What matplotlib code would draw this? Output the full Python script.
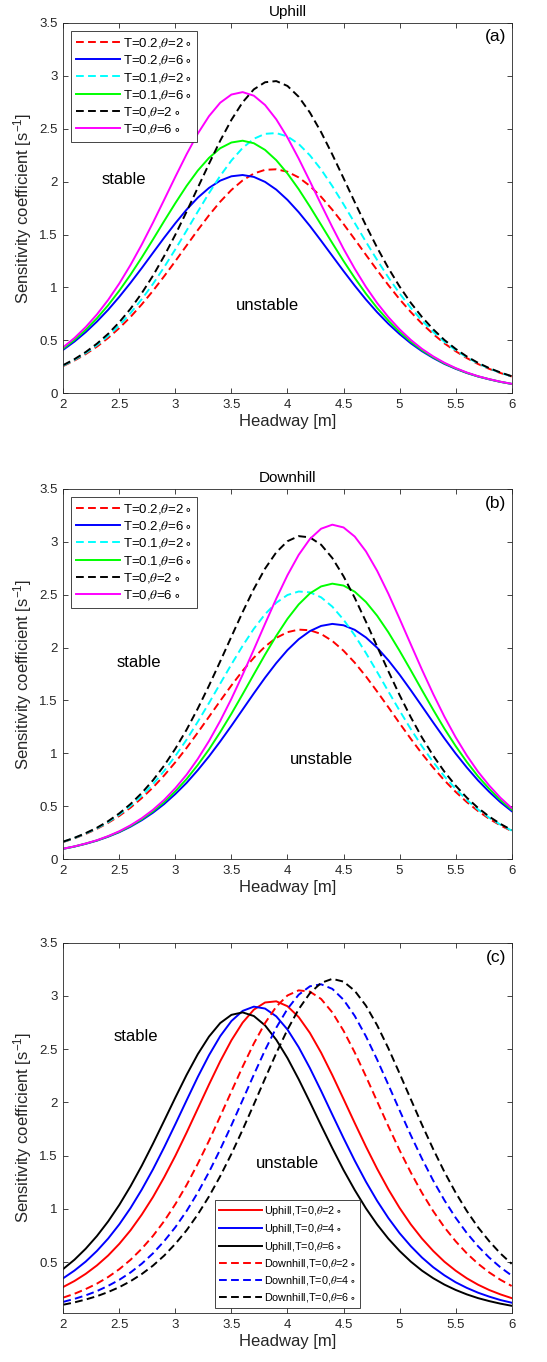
import matplotlib
matplotlib.use("Agg")
import matplotlib.pyplot as plt

plt.rcParams['font.family'] = ['Liberation Sans', 'DejaVu Sans']
plt.rcParams['mathtext.fontset'] = 'custom'
plt.rcParams['mathtext.rm'] = 'Liberation Sans'
plt.rcParams['mathtext.it'] = 'Liberation Sans:italic'

# headway [m]
headway = [2.0, 2.1, 2.2, 2.3, 2.4, 2.5, 2.6, 2.7, 2.8, 2.9, 3.0, 3.1, 3.2, 3.3, 3.4, 3.5, 3.6, 3.7, 3.8, 3.9, 4.0,
           4.1, 4.2, 4.3, 4.4, 4.5, 4.6, 4.7, 4.8, 4.9, 5.0, 5.1, 5.2, 5.3, 5.4, 5.5, 5.6, 5.7, 5.8, 5.9, 6.0]

# uphill sensitivity coefficients
up_T02_th2 = [0.258, 0.310, 0.371, 0.441, 0.523, 0.617, 0.722, 0.840, 0.968, 1.106, 1.249, 1.396, 1.542,
              1.682, 1.810, 1.921, 2.011, 2.076, 2.111, 2.116, 2.093, 2.039, 1.959, 1.856, 1.734, 1.599, 1.455, 1.308, 1.163,
              1.022, 0.889, 0.768, 0.658, 0.560, 0.472, 0.398, 0.333, 0.277, 0.231, 0.192, 0.159]
up_T02_th6 = [0.412, 0.489, 0.578, 0.678, 0.789, 0.912, 1.044, 1.183, 1.327, 1.470, 1.607, 1.735, 1.848,
              1.940, 2.009, 2.050, 2.062, 2.044, 1.997, 1.924, 1.827, 1.711, 1.581, 1.441, 1.298, 1.155, 1.017, 0.886, 0.766,
              0.657, 0.560, 0.473, 0.398, 0.334, 0.278, 0.232, 0.192, 0.159, 0.132, 0.108, 0.089]
up_T01_th2 = [0.262, 0.316, 0.380, 0.455, 0.541, 0.643, 0.758, 0.889, 1.033, 1.192, 1.361, 1.537, 1.716,
              1.891, 2.054, 2.199, 2.318, 2.404, 2.451, 2.458, 2.426, 2.355, 2.248, 2.114, 1.957, 1.786, 1.609, 1.431, 1.259,
              1.095, 0.944, 0.808, 0.687, 0.581, 0.487, 0.408, 0.340, 0.283, 0.234, 0.194, 0.160]
up_T01_th6 = [0.423, 0.505, 0.601, 0.709, 0.832, 0.970, 1.121, 1.283, 1.453, 1.627, 1.797, 1.959, 2.104,
              2.224, 2.315, 2.369, 2.386, 2.362, 2.299, 2.202, 2.076, 1.928, 1.764, 1.592, 1.419, 1.250, 1.090, 0.941, 0.806,
              0.687, 0.581, 0.488, 0.408, 0.341, 0.283, 0.235, 0.194, 0.160, 0.133, 0.109, 0.089]
up_T0_th2 = [0.267, 0.323, 0.390, 0.469, 0.562, 0.672, 0.799, 0.946, 1.111, 1.297, 1.499, 1.716, 1.942,
             2.168, 2.386, 2.583, 2.749, 2.871, 2.938, 2.949, 2.903, 2.801, 2.652, 2.467, 2.256, 2.032, 1.806, 1.585, 1.376,
             1.183, 1.009, 0.855, 0.721, 0.605, 0.504, 0.420, 0.348, 0.288, 0.238, 0.197, 0.162]
up_T0_th4 = [0.349, 0.421, 0.505, 0.605, 0.721, 0.855, 1.008, 1.181, 1.371, 1.578, 1.796, 2.019, 2.239,
             2.443, 2.622, 2.764, 2.859, 2.899, 2.881, 2.808, 2.684, 2.518, 2.322, 2.108, 1.885, 1.665, 1.453, 1.255, 1.075,
             0.914, 0.772, 0.650, 0.543, 0.452, 0.376, 0.311, 0.258, 0.213, 0.176, 0.144, 0.119]
up_T0_th6 = [0.436, 0.523, 0.626, 0.745, 0.882, 1.038, 1.213, 1.405, 1.612, 1.828, 2.046, 2.258, 2.453,
             2.618, 2.745, 2.822, 2.845, 2.811, 2.723, 2.588, 2.416, 2.217, 2.003, 1.784, 1.570, 1.365, 1.177, 1.005, 0.853,
             0.720, 0.605, 0.505, 0.420, 0.349, 0.289, 0.239, 0.197, 0.162, 0.134, 0.110, 0.090]

# downhill sensitivity coefficients
down_T02_th2 = [0.163, 0.198, 0.239, 0.287, 0.344, 0.410, 0.488, 0.578, 0.678, 0.792, 0.917, 1.052, 1.197,
                1.346, 1.496, 1.642, 1.780, 1.904, 2.009, 2.091, 2.145, 2.169, 2.163, 2.128, 2.062, 1.970, 1.857, 1.727, 1.584,
                1.436, 1.285, 1.138, 0.997, 0.866, 0.745, 0.637, 0.540, 0.456, 0.382, 0.320, 0.266]
down_T02_th6 = [0.099, 0.120, 0.146, 0.176, 0.213, 0.256, 0.308, 0.369, 0.440, 0.522, 0.617, 0.722, 0.842,
                0.972, 1.113, 1.261, 1.414, 1.567, 1.715, 1.853, 1.976, 2.078, 2.155, 2.204, 2.223, 2.210, 2.167, 2.095, 1.998,
                1.879, 1.744, 1.597, 1.445, 1.292, 1.142, 0.999, 0.867, 0.745, 0.637, 0.539, 0.455]
down_T01_th2 = [0.165, 0.200, 0.243, 0.292, 0.351, 0.422, 0.504, 0.601, 0.710, 0.835, 0.976, 1.130, 1.299,
                1.476, 1.659, 1.841, 2.016, 2.177, 2.315, 2.423, 2.496, 2.529, 2.521, 2.474, 2.386, 2.263, 2.115, 1.948, 1.769,
                1.585, 1.404, 1.230, 1.067, 0.918, 0.783, 0.665, 0.560, 0.470, 0.392, 0.327, 0.271]
down_T01_th6 = [0.099, 0.121, 0.148, 0.178, 0.216, 0.260, 0.314, 0.378, 0.453, 0.541, 0.643, 0.758, 0.891,
                1.038, 1.201, 1.375, 1.559, 1.747, 1.933, 2.110, 2.271, 2.407, 2.511, 2.577, 2.603, 2.585, 2.527, 2.430, 2.300,
                2.144, 1.969, 1.785, 1.597, 1.412, 1.234, 1.070, 0.919, 0.783, 0.665, 0.559, 0.469]
down_T0_th2 = [0.167, 0.203, 0.247, 0.298, 0.360, 0.434, 0.522, 0.626, 0.746, 0.885, 1.045, 1.224, 1.424,
               1.640, 1.869, 2.103, 2.335, 2.553, 2.745, 2.899, 3.004, 3.052, 3.040, 2.971, 2.845, 2.673, 2.469, 2.244, 2.009,
               1.776, 1.551, 1.342, 1.150, 0.979, 0.827, 0.696, 0.582, 0.485, 0.403, 0.334, 0.276]
down_T0_th4 = [0.127, 0.155, 0.188, 0.228, 0.277, 0.334, 0.403, 0.485, 0.582, 0.697, 0.828, 0.980, 1.153,
               1.346, 1.558, 1.785, 2.022, 2.260, 2.491, 2.701, 2.878, 3.011, 3.090, 3.109, 3.066, 2.964, 2.812, 2.620, 2.401,
               2.165, 1.926, 1.692, 1.471, 1.266, 1.081, 0.917, 0.773, 0.649, 0.542, 0.451, 0.374]
down_T0_th6 = [0.100, 0.122, 0.149, 0.180, 0.219, 0.265, 0.321, 0.388, 0.467, 0.561, 0.672, 0.799, 0.948,
               1.117, 1.307, 1.516, 1.743, 1.981, 2.224, 2.462, 2.683, 2.875, 3.025, 3.122, 3.160, 3.134, 3.048, 2.908, 2.724,
               2.508, 2.272, 2.030, 1.790, 1.561, 1.347, 1.153, 0.980, 0.827, 0.696, 0.581, 0.484]

xticks = [2, 2.5, 3, 3.5, 4, 4.5, 5, 5.5, 6]
xtick_labels = ['2', '2.5', '3', '3.5', '4', '4.5', '5', '5.5', '6']
yticks = [0, 0.5, 1, 1.5, 2, 2.5, 3, 3.5]
ytick_labels = ['0', '0.5', '1', '1.5', '2', '2.5', '3', '3.5']

DASH = (0, (4.0, 2.2))
GRAY = '#262626'
CYAN = '#00ffff'
MAGENTA = '#ff00ff'
GREEN = '#00ff00'
lw = 1.4


def deg(s):
    return s + r'$\,\circ$'


def line(ax, y, color, dashed, label):
    ax.plot(headway, y, color=color, ls=DASH if dashed else '-', lw=lw, label=label,
            solid_joinstyle='round', dash_joinstyle='round')


def style_axes(ax):
    ax.set_xlim(2, 6)
    ax.set_xticks(xticks)
    ax.set_xticklabels(xtick_labels)
    ax.tick_params(direction='in', top=True, right=True, length=3.5, width=0.6,
                   labelsize=9.5, colors=GRAY, pad=4)
    for sp in ax.spines.values():
        sp.set_color(GRAY)
        sp.set_linewidth(0.6)
    ax.set_xlabel('Headway [m]', fontsize=12, color=GRAY, labelpad=2)
    ax.set_ylabel('Sensitivity coefficient [s$^{-1}$]', fontsize=12, color=GRAY, labelpad=4)


def make_legend(ax, **kw):
    leg = ax.legend(fancybox=False, framealpha=1, handletextpad=0.2, borderpad=0.4, **kw)
    leg.get_frame().set_edgecolor(GRAY)
    leg.get_frame().set_linewidth(0.6)
    for t in leg.get_texts():
        t.set_math_fontfamily('stix')
    return leg


fig = plt.figure(figsize=(5.47, 13.62), dpi=100)
L, W, H = 0.1157, 0.8197, 0.2721

# (a) uphill
ax = fig.add_axes([L, 0.7112, W, H])
line(ax, up_T02_th2, 'r', True, deg(r'T=0.2,$\theta$=2'))
line(ax, up_T02_th6, 'b', False, deg(r'T=0.2,$\theta$=6'))
line(ax, up_T01_th2, CYAN, True, deg(r'T=0.1,$\theta$=2'))
line(ax, up_T01_th6, GREEN, False, deg(r'T=0.1,$\theta$=6'))
line(ax, up_T0_th2, 'k', True, deg(r'T=0,$\theta$=2'))
line(ax, up_T0_th6, MAGENTA, False, deg(r'T=0,$\theta$=6'))
ax.set_ylim(0, 3.5)
ax.set_yticks(yticks)
ax.set_yticklabels(ytick_labels)
style_axes(ax)
ax.set_title('Uphill', fontsize=11, pad=5)
ax.text(2.54, 2.02, 'stable', fontsize=12, ha='center', va='center')
ax.text(3.82, 0.83, 'unstable', fontsize=12, ha='center', va='center')
ax.text(5.86, 3.37, '(a)', fontsize=12.5, ha='center', va='center')
make_legend(ax, loc='upper left', fontsize=9.5, handlelength=3.3, labelspacing=0.25, borderaxespad=0.6)

# (b) downhill
ax = fig.add_axes([L, 0.3691, W, H])
line(ax, down_T02_th2, 'r', True, deg(r'T=0.2,$\theta$=2'))
line(ax, down_T02_th6, 'b', False, deg(r'T=0.2,$\theta$=6'))
line(ax, down_T01_th2, CYAN, True, deg(r'T=0.1,$\theta$=2'))
line(ax, down_T01_th6, GREEN, False, deg(r'T=0.1,$\theta$=6'))
line(ax, down_T0_th2, 'k', True, deg(r'T=0,$\theta$=2'))
line(ax, down_T0_th6, MAGENTA, False, deg(r'T=0,$\theta$=6'))
ax.set_ylim(0, 3.5)
ax.set_yticks(yticks)
ax.set_yticklabels(ytick_labels)
style_axes(ax)
ax.set_title('Downhill', fontsize=11, pad=5)
ax.text(2.67, 1.86, 'stable', fontsize=12, ha='center', va='center')
ax.text(4.30, 0.94, 'unstable', fontsize=12, ha='center', va='center')
ax.text(5.86, 3.36, '(b)', fontsize=12.5, ha='center', va='center')
make_legend(ax, loc='upper left', fontsize=9.5, handlelength=3.3, labelspacing=0.25, borderaxespad=0.6)

# (c) uphill vs downhill, T=0
ax = fig.add_axes([L, 0.0358, W, H])
line(ax, up_T0_th2, 'r', False, deg(r'Uphill,T=0,$\theta$=2'))
line(ax, up_T0_th4, 'b', False, deg(r'Uphill,T=0,$\theta$=4'))
line(ax, up_T0_th6, 'k', False, deg(r'Uphill,T=0,$\theta$=6'))
line(ax, down_T0_th2, 'r', True, deg(r'Downhill,T=0,$\theta$=2'))
line(ax, down_T0_th4, 'b', True, deg(r'Downhill,T=0,$\theta$=4'))
line(ax, down_T0_th6, 'k', True, deg(r'Downhill,T=0,$\theta$=6'))
ax.set_ylim(0.02, 3.5)
ax.set_yticks(yticks[1:])
ax.set_yticklabels(ytick_labels[1:])
style_axes(ax)
ax.text(2.65, 2.62, 'stable', fontsize=12, ha='center', va='center')
ax.text(4.0, 1.43, 'unstable', fontsize=12, ha='center', va='center')
ax.text(5.86, 3.365, '(c)', fontsize=12.5, ha='center', va='center')
make_legend(ax, loc='lower center', fontsize=7.8, handlelength=3.9, labelspacing=0.35, borderaxespad=0.45)

fig.savefig('out.png', dpi=100)
